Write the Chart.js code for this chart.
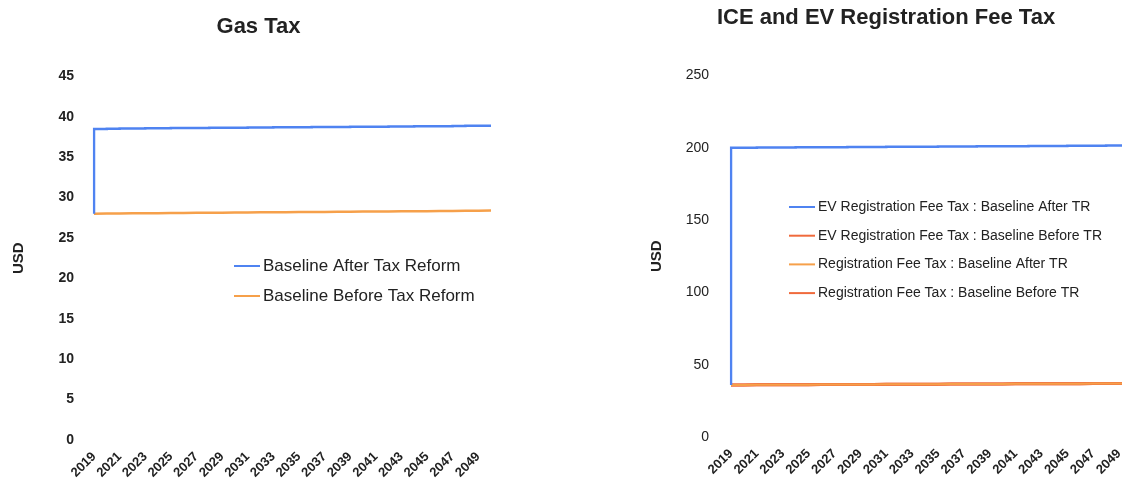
<!DOCTYPE html>
<html>
<head>
<meta charset="utf-8">
<script src="https://cdn.jsdelivr.net/npm/chart.js@4.4.1/dist/chart.umd.min.js"></script>
<style>
  html, body { margin:0; padding:0; background:#fff; overflow:hidden; width:1122px; height:483px; }
  .box { position:absolute; top:0; height:483px; }
  #b1 { left:0; width:560px; }
  #b2 { left:560px; width:600px; }
</style>
</head>
<body>
<div class="box" id="b1"><canvas id="c1" width="560" height="483"></canvas></div>
<div class="box" id="b2"><canvas id="c2" width="600" height="483"></canvas></div>
<script>
const years = [2019,2020,2021,2022,2023,2024,2025,2026,2027,2028,2029,2030,2031,2032,2033,2034,2035,2036,2037,2038,2039,2040,2041,2042,2043,2044,2045,2046,2047,2048,2049,2050];

const gasAfter  = [28.0,38.5,38.52,38.54,38.55,38.57,38.58,38.6,38.61,38.62,38.63,38.65,38.66,38.67,38.68,38.7,38.71,38.72,38.73,38.74,38.75,38.76,38.77,38.78,38.79,38.8,38.82,38.83,38.84,38.86,38.88,38.9];
const gasBefore = [28.0,28.02,28.03,28.05,28.06,28.07,28.09,28.1,28.11,28.13,28.14,28.15,28.16,28.18,28.19,28.2,28.21,28.22,28.23,28.25,28.26,28.27,28.28,28.29,28.3,28.31,28.32,28.34,28.35,28.36,28.38,28.4];

const evAfter   = [36.0,200.0,200.05,200.1,200.15,200.2,200.25,200.3,200.35,200.4,200.45,200.5,200.55,200.6,200.65,200.7,200.75,200.8,200.85,200.9,200.95,201.0,201.05,201.1,201.15,201.2,201.25,201.3,201.35,201.4,201.45,201.5];
const evBefore  = [36.0,36.03,36.06,36.1,36.13,36.16,36.2,36.23,36.26,36.3,36.33,36.36,36.4,36.43,36.46,36.5,36.53,36.56,36.6,36.63,36.66,36.7,36.73,36.76,36.8,36.83,36.86,36.9,36.92,36.95,36.98,37.0];
const regAfter  = [36.0,36.03,36.06,36.1,36.13,36.16,36.2,36.23,36.26,36.3,36.33,36.36,36.4,36.43,36.46,36.5,36.53,36.56,36.6,36.63,36.66,36.7,36.73,36.76,36.8,36.83,36.86,36.9,36.92,36.95,36.98,37.0];
const regBefore = [36.0,36.03,36.06,36.1,36.13,36.16,36.2,36.23,36.26,36.3,36.33,36.36,36.4,36.43,36.46,36.5,36.53,36.56,36.6,36.63,36.66,36.7,36.73,36.76,36.8,36.83,36.86,36.9,36.92,36.95,36.98,37.0];

const gasLabels = ['Baseline After Tax Reform','Baseline Before Tax Reform'];
const regLabels = ['EV Registration Fee Tax : Baseline After TR','EV Registration Fee Tax : Baseline Before TR','Registration Fee Tax : Baseline After TR','Registration Fee Tax : Baseline Before TR'];

const FONT = "'Liberation Sans', Arial, sans-serif";
const BLUE = '#4f83f1', ORANGE = '#f6a04a', RED = '#f06a3c';

const insideLegend = {
  id: 'insideLegend',
  afterDraw(chart, args, opts) {
    const ctx = chart.ctx;
    ctx.save();
    ctx.font = opts.font;
    ctx.textBaseline = 'middle';
    ctx.textAlign = 'left';
    chart.data.datasets.forEach((ds, i) => {
      const y = opts.y + i * opts.gap;
      ctx.strokeStyle = ds.borderColor;
      ctx.lineWidth = 2;
      ctx.beginPath();
      ctx.moveTo(opts.x, y);
      ctx.lineTo(opts.x + opts.lineLen, y);
      ctx.stroke();
      ctx.fillStyle = '#222';
      ctx.fillText(ds.label, opts.x + opts.lineLen + 3, y);
    });
    ctx.restore();
  }
};

function xScale(h) {
  return {
    type: 'category',
    grid: { display: false, drawTicks: false },
    border: { display: false },
    ticks: {
      autoSkip: false, minRotation: 45, maxRotation: 45, padding: 9,
      color: '#222', font: { family: FONT, size: 13, weight: 'bold' },
      callback(v, i) { return i % 2 === 0 ? this.getLabelForValue(v) : ''; }
    },
    afterFit(s) { s.height = h; }
  };
}

function spacer(w) {
  return {
    position: 'right', display: true,
    grid: { display: false, drawTicks: false },
    border: { display: false },
    ticks: { display: false },
    afterFit(s) { s.width = w; }
  };
}

new Chart(document.getElementById('c1'), {
  type: 'line',
  data: {
    labels: years,
    datasets: [
      { label: gasLabels[0], data: gasAfter, borderColor: BLUE, borderWidth: 2.5, pointRadius: 0, stepped: 'after', tension: 0 },
      { label: gasLabels[1], data: gasBefore, borderColor: ORANGE, borderWidth: 2.5, pointRadius: 0, tension: 0 }
    ]
  },
  options: {
    responsive: false, animation: false,
    layout: { padding: { left: 0, right: 43, top: 0, bottom: 0 } },
    plugins: {
      legend: { display: false }, tooltip: { enabled: false },
      title: { display: true, text: 'Gas Tax', color: '#222', font: { family: FONT, size: 22, weight: 'bold' }, padding: { top: 14, bottom: 36 } },
      insideLegend: { x: 234, y: 266, gap: 30, lineLen: 26, font: "17px " + FONT }
    },
    scales: {
      x: xScale(43),
      y: {
        min: 0, max: 45,
        grid: { display: false, drawTicks: false },
        border: { display: false },
        ticks: { stepSize: 5, padding: 20, color: '#222', font: { family: FONT, size: 14, weight: 'bold' } },
        title: { display: true, text: 'USD', color: '#222', font: { family: FONT, size: 15, weight: 'bold' }, padding: { top: 10, bottom: 0 } },
        afterFit(s) { s.width = 94; }
      },
      y2: spacer(26)
    }
  },
  plugins: [insideLegend]
});

new Chart(document.getElementById('c2'), {
  type: 'line',
  data: {
    labels: years,
    datasets: [
      { label: regLabels[0], data: evAfter, borderColor: BLUE, borderWidth: 2.5, pointRadius: 0, stepped: 'after', tension: 0, order: 0 },
      { label: regLabels[1], data: evBefore, borderColor: RED, borderWidth: 3, pointRadius: 0, tension: 0, order: 3 },
      { label: regLabels[2], data: regAfter, borderColor: ORANGE, borderWidth: 2, pointRadius: 0, tension: 0, order: 1 },
      { label: regLabels[3], data: regBefore, borderColor: RED, borderWidth: 3, pointRadius: 0, tension: 0, order: 2 }
    ]
  },
  options: {
    responsive: false, animation: false,
    layout: { padding: { left: 52, right: 0, top: 0, bottom: 0 } },
    plugins: {
      legend: { display: false }, tooltip: { enabled: false },
      title: { display: true, text: 'ICE and EV Registration Fee Tax', color: '#222', font: { family: FONT, size: 22, weight: 'bold' }, padding: { top: 5, bottom: 44 } },
      insideLegend: { x: 229, y: 207, gap: 28.7, lineLen: 26, font: "14px " + FONT }
    },
    scales: {
      x: xScale(46),
      y: {
        min: 0, max: 250,
        grid: { display: false, drawTicks: false },
        border: { display: false },
        ticks: { stepSize: 50, padding: 22, color: '#222', font: { family: FONT, size: 14 } },
        title: { display: true, text: 'USD', color: '#222', font: { family: FONT, size: 15, weight: 'bold' }, padding: { top: 36, bottom: 0 } },
        afterFit(s) { s.width = 119; }
      },
      y2: spacer(28)
    }
  },
  plugins: [insideLegend]
});
</script>
</body>
</html>
